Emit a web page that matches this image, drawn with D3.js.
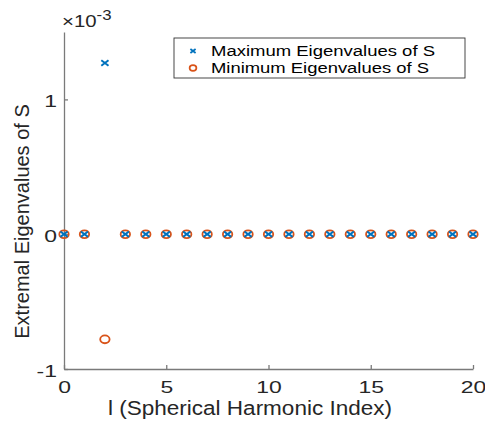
<!DOCTYPE html>
<html><head><meta charset="utf-8">
<script src="https://cdn.jsdelivr.net/npm/d3@7"></script>
<style>body{margin:0;background:#fff}svg{display:block}text{font-family:"Liberation Sans",Arial,Helvetica,sans-serif}</style>
</head><body><svg id="c" width="485" height="423"></svg>
<script>
const lValues = d3.range(0, 21);
const maxEig = [0,0,1.27e-3,0,0,0,0,0,0,0,0,0,0,0,0,0,0,0,0,0,0];
const minEig = [0,0,-0.78e-3,0,0,0,0,0,0,0,0,0,0,0,0,0,0,0,0,0,0];
const xTicks = [0,5,10,15,20];
const yTicks = [-1e-3,0,1e-3];
const seriesNames = ["Maximum Eigenvalues of S","Minimum Eigenvalues of S"];
const colors = ["#0072BD","#D95319"];

const svg = d3.select("#c");
const L=64,R=473,T=32,B=369;
const x = d3.scaleLinear().domain([0,20]).range([L,R]);
const y = d3.scaleLinear().domain([-1e-3,1.5e-3]).range([B,T]);
const axisCol="#7a7a7a", txtCol="#262626";
const SX = 1.35; // horizontal glyph stretch seen in the reference

// axes
const xa = svg.append("g").attr("transform",`translate(0,${B})`)
  .call(d3.axisBottom(x).tickValues(xTicks).tickSizeInner(-4).tickSizeOuter(0));
const ya = svg.append("g").attr("transform",`translate(${L},0)`)
  .call(d3.axisLeft(y).tickValues(yTicks).tickSizeInner(-4).tickSizeOuter(0).tickFormat(d=>String(Math.round(d*1000))));
[xa,ya].forEach(a=>{
  a.select(".domain").attr("stroke",axisCol).attr("stroke-width",1.3);
  a.selectAll(".tick line").attr("stroke",axisCol).attr("stroke-width",1.3);
  a.selectAll(".tick text").attr("fill",txtCol).attr("font-size",17).style("font-family","'Liberation Sans',Arial,sans-serif");
});
xa.selectAll(".tick text").attr("y",0).attr("dy",0).attr("text-anchor","middle")
  .attr("transform",`translate(0,24) scale(${SX},1)`);
ya.selectAll(".tick text").attr("x",0).attr("dy","0.36em").attr("text-anchor","end")
  .attr("transform",`translate(-7,1) scale(${SX},1)`);

// exponent
const ex = svg.append("text").attr("transform",`translate(62,27) scale(1.2,1)`).attr("fill",txtCol).attr("font-size",17);
ex.append("tspan").text("×10");
ex.append("tspan").attr("dy",-7).attr("font-size",14).text("-3");

// labels
svg.append("text").attr("x",250).attr("y",415).attr("text-anchor","middle")
  .attr("fill",txtCol).attr("font-size",20).attr("textLength",284).attr("lengthAdjust","spacingAndGlyphs")
  .text("l (Spherical Harmonic Index)");
svg.append("text").attr("transform",`translate(28.5,221.5) scale(1.05,1) rotate(-90)`).attr("text-anchor","middle")
  .attr("fill",txtCol).attr("font-size",20).text("Extremal Eigenvalues of S");

// markers: min circles first, then max crosses on top
function cross(g,cx,cy,sx,sy,col,w){
  g.append("path").attr("d",`M${cx-sx},${cy-sy}L${cx+sx},${cy+sy}M${cx-sx},${cy+sy}L${cx+sx},${cy-sy}`)
   .attr("stroke",col).attr("stroke-width",w).attr("fill","none");
}
const gm = svg.append("g");
gm.selectAll("ellipse").data(lValues).join("ellipse")
  .attr("cx",d=>x(d)).attr("cy",(d,i)=>y(minEig[i])).attr("rx",4.7).attr("ry",3.9)
  .attr("fill","none").attr("stroke",colors[1]).attr("stroke-width",1.8);
const gx = svg.append("g");
lValues.forEach((d,i)=>cross(gx,x(d),y(maxEig[i]),3.6,2.7,colors[0],2));

// legend
const lg = svg.append("g");
lg.append("rect").attr("x",174).attr("y",38).attr("width",291).attr("height",40)
  .attr("fill","#fff").attr("stroke","#333").attr("stroke-width",0.9);
cross(lg,193,51,2.6,2,colors[0],1.8);
lg.append("ellipse").attr("cx",193).attr("cy",68).attr("rx",3.4).attr("ry",2.8).attr("fill","none").attr("stroke",colors[1]).attr("stroke-width",1.7);
const lens=[224,218];
seriesNames.forEach((n,i)=>lg.append("text").attr("x",211).attr("y",56+17*i)
  .attr("font-size",15.5).attr("fill","#000").attr("textLength",lens[i]).attr("lengthAdjust","spacingAndGlyphs").text(n));
</script></body></html>
